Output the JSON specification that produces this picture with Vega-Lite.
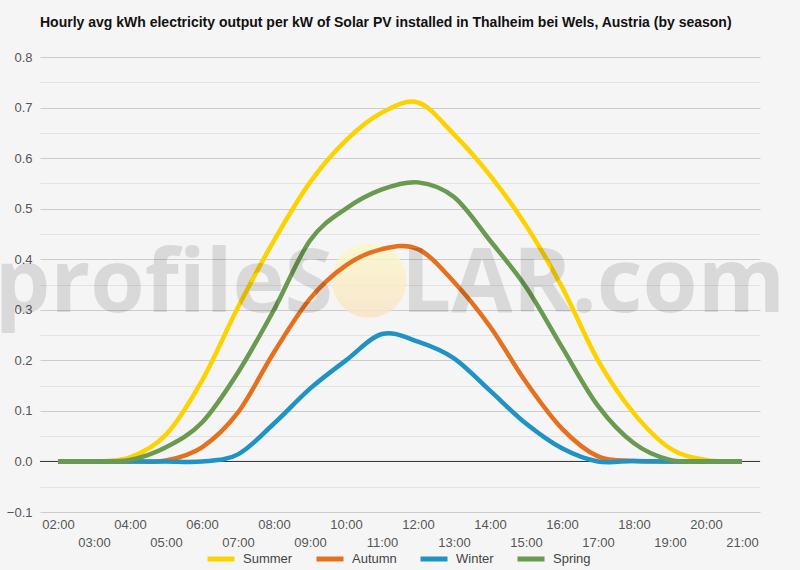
{
  "$schema": "https://vega.github.io/schema/vega-lite/v6.json",
  "autosize": "none",
  "width": 720,
  "height": 455,
  "padding": {"left": 40, "top": 57, "right": 40, "bottom": 58},
  "background": "#f5f5f5",
  "title": {
    "text": "Hourly avg kWh electricity output per kW of Solar PV installed in Thalheim bei Wels, Austria (by season)",
    "anchor": "start",
    "frame": "group",
    "offset": 21,
    "font": "Liberation Sans",
    "fontSize": 14,
    "fontWeight": "bold",
    "color": "#111"
  },
  "data": {
    "values": [
      {"hour": "02:00", "season": "Summer", "kwh": 0},
      {"hour": "03:00", "season": "Summer", "kwh": 0},
      {"hour": "04:00", "season": "Summer", "kwh": 0.008},
      {"hour": "05:00", "season": "Summer", "kwh": 0.053},
      {"hour": "06:00", "season": "Summer", "kwh": 0.16},
      {"hour": "07:00", "season": "Summer", "kwh": 0.305},
      {"hour": "08:00", "season": "Summer", "kwh": 0.437},
      {"hour": "09:00", "season": "Summer", "kwh": 0.552},
      {"hour": "10:00", "season": "Summer", "kwh": 0.635},
      {"hour": "11:00", "season": "Summer", "kwh": 0.69},
      {"hour": "12:00", "season": "Summer", "kwh": 0.71},
      {"hour": "13:00", "season": "Summer", "kwh": 0.647},
      {"hour": "14:00", "season": "Summer", "kwh": 0.566},
      {"hour": "15:00", "season": "Summer", "kwh": 0.467},
      {"hour": "16:00", "season": "Summer", "kwh": 0.345},
      {"hour": "17:00", "season": "Summer", "kwh": 0.2},
      {"hour": "18:00", "season": "Summer", "kwh": 0.095},
      {"hour": "19:00", "season": "Summer", "kwh": 0.026},
      {"hour": "20:00", "season": "Summer", "kwh": 0.003},
      {"hour": "21:00", "season": "Summer", "kwh": 0},
      {"hour": "02:00", "season": "Autumn", "kwh": 0},
      {"hour": "03:00", "season": "Autumn", "kwh": 0},
      {"hour": "04:00", "season": "Autumn", "kwh": 0},
      {"hour": "05:00", "season": "Autumn", "kwh": 0.002},
      {"hour": "06:00", "season": "Autumn", "kwh": 0.028},
      {"hour": "07:00", "season": "Autumn", "kwh": 0.097},
      {"hour": "08:00", "season": "Autumn", "kwh": 0.216},
      {"hour": "09:00", "season": "Autumn", "kwh": 0.322},
      {"hour": "10:00", "season": "Autumn", "kwh": 0.388},
      {"hour": "11:00", "season": "Autumn", "kwh": 0.42},
      {"hour": "12:00", "season": "Autumn", "kwh": 0.42},
      {"hour": "13:00", "season": "Autumn", "kwh": 0.355},
      {"hour": "14:00", "season": "Autumn", "kwh": 0.267},
      {"hour": "15:00", "season": "Autumn", "kwh": 0.157},
      {"hour": "16:00", "season": "Autumn", "kwh": 0.065},
      {"hour": "17:00", "season": "Autumn", "kwh": 0.01},
      {"hour": "18:00", "season": "Autumn", "kwh": 0.001},
      {"hour": "19:00", "season": "Autumn", "kwh": 0},
      {"hour": "20:00", "season": "Autumn", "kwh": 0},
      {"hour": "21:00", "season": "Autumn", "kwh": 0},
      {"hour": "02:00", "season": "Winter", "kwh": 0},
      {"hour": "03:00", "season": "Winter", "kwh": 0},
      {"hour": "04:00", "season": "Winter", "kwh": 0},
      {"hour": "05:00", "season": "Winter", "kwh": 0},
      {"hour": "06:00", "season": "Winter", "kwh": 0},
      {"hour": "07:00", "season": "Winter", "kwh": 0.014},
      {"hour": "08:00", "season": "Winter", "kwh": 0.075},
      {"hour": "09:00", "season": "Winter", "kwh": 0.144},
      {"hour": "10:00", "season": "Winter", "kwh": 0.2},
      {"hour": "11:00", "season": "Winter", "kwh": 0.252},
      {"hour": "12:00", "season": "Winter", "kwh": 0.237},
      {"hour": "13:00", "season": "Winter", "kwh": 0.204},
      {"hour": "14:00", "season": "Winter", "kwh": 0.14},
      {"hour": "15:00", "season": "Winter", "kwh": 0.075},
      {"hour": "16:00", "season": "Winter", "kwh": 0.026},
      {"hour": "17:00", "season": "Winter", "kwh": 0},
      {"hour": "18:00", "season": "Winter", "kwh": 0.001},
      {"hour": "19:00", "season": "Winter", "kwh": 0},
      {"hour": "20:00", "season": "Winter", "kwh": 0},
      {"hour": "21:00", "season": "Winter", "kwh": 0},
      {"hour": "02:00", "season": "Spring", "kwh": 0},
      {"hour": "03:00", "season": "Spring", "kwh": 0},
      {"hour": "04:00", "season": "Spring", "kwh": 0.003},
      {"hour": "05:00", "season": "Spring", "kwh": 0.028},
      {"hour": "06:00", "season": "Spring", "kwh": 0.077},
      {"hour": "07:00", "season": "Spring", "kwh": 0.176},
      {"hour": "08:00", "season": "Spring", "kwh": 0.3},
      {"hour": "09:00", "season": "Spring", "kwh": 0.437},
      {"hour": "10:00", "season": "Spring", "kwh": 0.5},
      {"hour": "11:00", "season": "Spring", "kwh": 0.538},
      {"hour": "12:00", "season": "Spring", "kwh": 0.552},
      {"hour": "13:00", "season": "Spring", "kwh": 0.523},
      {"hour": "14:00", "season": "Spring", "kwh": 0.437},
      {"hour": "15:00", "season": "Spring", "kwh": 0.345},
      {"hour": "16:00", "season": "Spring", "kwh": 0.226},
      {"hour": "17:00", "season": "Spring", "kwh": 0.11},
      {"hour": "18:00", "season": "Spring", "kwh": 0.036},
      {"hour": "19:00", "season": "Spring", "kwh": 0.003},
      {"hour": "20:00", "season": "Spring", "kwh": 0},
      {"hour": "21:00", "season": "Spring", "kwh": 0}
    ]
  },
  "encoding": {
    "x": {
      "field": "hour",
      "type": "ordinal",
      "scale": {"type": "point", "padding": 0.5},
      "axis": {
        "title": null,
        "labelAngle": 0,
        "ticks": false,
        "domain": false,
        "grid": false,
        "labelBaseline": "top",
        "labelPadding": 6,
        "labelLineHeight": 18,
        "labelExpr": "toNumber(slice(datum.value, 0, 2)) % 2 == 1 ? ['', datum.label] : datum.label"
      }
    },
    "y": {
      "field": "kwh",
      "type": "quantitative",
      "scale": {"domain": [-0.1, 0.8], "nice": false, "zero": false},
      "axis": {
        "title": null,
        "domain": false,
        "ticks": false,
        "labelPadding": 8,
        "values": [-0.1, -0.05, 0, 0.05, 0.1, 0.15, 0.2, 0.25, 0.3, 0.35, 0.4, 0.45, 0.5, 0.55, 0.6, 0.65, 0.7, 0.75, 0.8],
        "labelExpr": "abs(round(datum.value * 100)) % 10 == 0 ? format(datum.value, '.1f') : ''",
        "gridColor": {"condition": {"test": "abs(round(datum.value * 100)) % 10 == 0", "value": "#cccccc"}, "value": "#e2e2e2"}
      }
    }
  },
  "layer": [
    {
      "transform": [{"filter": "datum.hour == '11:00' && datum.season == 'Summer'"}],
      "mark": {"type": "point", "filled": true, "opacity": 0.8, "xOffset": -13,
        "color": {"gradient": "linear", "x1": 0, "y1": 0, "x2": 0, "y2": 1,
          "stops": [{"offset": 0, "color": "#fbf8c8"}, {"offset": 1, "color": "#f9e3c4"}]}},
      "encoding": {
        "y": {"datum": 0.358},
        "size": {"value": 5600}
      }
    },
    {
      "transform": [{"filter": "datum.hour == '02:00' && datum.season == 'Summer'"}],
      "mark": {"type": "rule", "color": "#333333", "strokeWidth": 1},
      "encoding": {"y": {"datum": 0}, "x": null}
    },
    {
      "mark": {"type": "line", "interpolate": "cardinal", "strokeWidth": 4.5},
      "encoding": {
        "color": {
          "field": "season",
          "type": "nominal",
          "sort": null,
          "scale": {
            "domain": ["Summer", "Autumn", "Winter", "Spring"],
            "range": ["#fcd200", "#e5711f", "#1f93c3", "#6a9a4f"]
          },
          "legend": {
            "title": null,
            "orient": "none",
            "direction": "horizontal",
            "legendX": 165,
            "legendY": 486,
            "symbolType": "stroke",
            "symbolSize": 729,
            "symbolStrokeWidth": 5,
            "labelFontSize": 13,
            "labelColor": "#444444",
            "labelOffset": 6,
            "columnPadding": 13
          }
        }
      }
    },
    {
      "transform": [{"filter": "datum.hour == '10:00' && datum.season == 'Summer'"}],
      "mark": {"type": "text", "align": "right", "baseline": "alphabetic", "dx": -13,
        "font": "Open Sans", "fontWeight": "bold", "fontSize": 88, "color": "#000000", "opacity": 0.11},
      "encoding": {
        "y": {"datum": 0.295},
        "text": {"value": "profileS"}
      }
    },
    {
      "transform": [{"filter": "datum.hour == '11:00' && datum.season == 'Summer'"}],
      "mark": {"type": "text", "align": "left", "baseline": "alphabetic", "dx": 19,
        "font": "Open Sans", "fontWeight": "bold", "fontSize": 89, "color": "#000000", "opacity": 0.11},
      "encoding": {
        "y": {"datum": 0.295},
        "text": {"value": "LAR.com"}
      }
    }
  ],
  "config": {
    "view": {"stroke": null},
    "font": "Liberation Sans",
    "axis": {"labelFontSize": 13, "labelColor": "#555555", "labelFont": "Liberation Sans"},
    "legend": {"labelFont": "Liberation Sans"}
  }
}
